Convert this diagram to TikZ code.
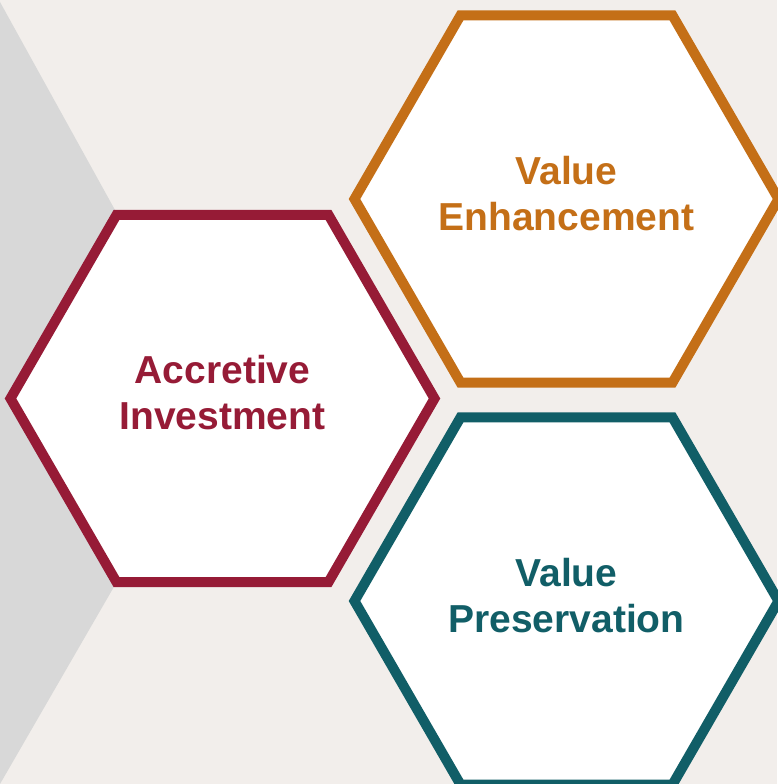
\documentclass[tikz,border=0pt]{standalone}
\usepackage{fontspec}
\setmainfont{Liberation Sans}
\definecolor{bgc}{HTML}{F2EEEB}
\definecolor{grayc}{HTML}{D8D8D8}
\definecolor{redc}{HTML}{961B36}
\definecolor{orangec}{HTML}{C46F17}
\definecolor{tealc}{HTML}{115E67}
\tikzset{
  hexline/.style={line width=10pt, fill=white, line join=miter},
  hextext/.style={align=center, inner sep=0pt, font=\bfseries\fontsize{39}{46}\selectfont},
}
\begin{document}
\begin{tikzpicture}[x=1pt,y=-1pt]
\fill[bgc] (0,0) rectangle (777,784);
\useasboundingbox (0,0) rectangle (777,784);
\fill[grayc] (0,2) -- (115,210) -- (115,585) -- (0,784) -- cycle;
\coordinate (cr) at (222.5,398.5);
\coordinate (co) at (566.5,199);
\coordinate (ct) at (566.5,601);
\draw[hexline, draw=redc, shift={(cr)}] (0:212pt) -- (60:212pt) -- (120:212pt) -- (180:212pt) -- (240:212pt) -- (300:212pt) -- cycle;
\draw[hexline, draw=orangec, shift={(co)}] (0:212pt) -- (60:212pt) -- (120:212pt) -- (180:212pt) -- (240:212pt) -- (300:212pt) -- cycle;
\draw[hexline, draw=tealc, shift={(ct)}] (0:212pt) -- (60:212pt) -- (120:212pt) -- (180:212pt) -- (240:212pt) -- (300:212pt) -- cycle;
\node[hextext, text=redc] (tr) at ([yshift=5.5pt]cr) {Accretive\\Investment};
\node[hextext, text=orangec] (to) at ([yshift=5pt]co) {Value\\Enhancement};
\node[hextext, text=tealc] (tt) at ([yshift=5pt]ct) {Value\\Preservation};
\end{tikzpicture}
\end{document}
